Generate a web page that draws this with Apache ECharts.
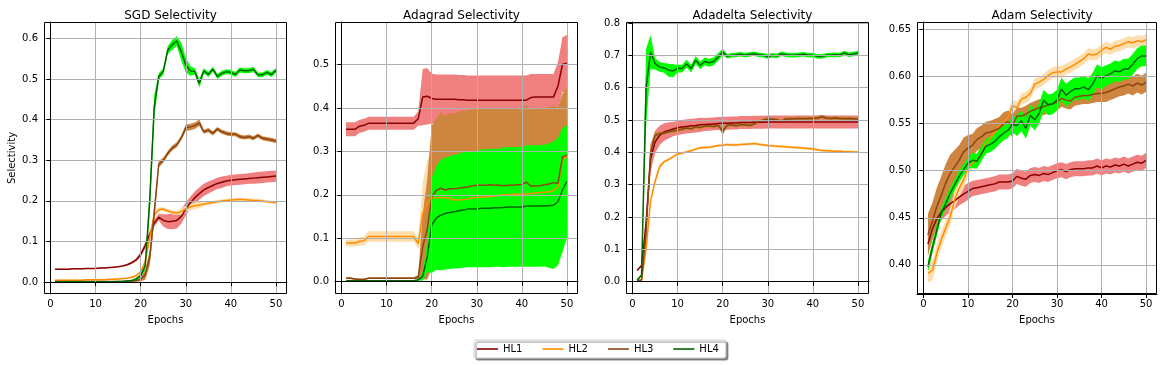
<!DOCTYPE html>
<html>
<head>
<meta charset="utf-8">
<script src="https://cdn.jsdelivr.net/npm/echarts@6/dist/echarts.min.js"></script>
<style>
  html, body { margin: 0; padding: 0; background: #fff; }
  #chart { width: 1167px; height: 365px; }
</style>
</head>
<body>
<div id="chart"></div>
<script>
// epochs (x values)
const epochs = [1,2,3,4,5,6,7,8,9,10,11,12,13,14,15,16,17,18,19,20,21,22,23,24,25,
  26,27,28,29,30,31,32,33,34,35,36,37,38,39,40,41,42,43,44,45,46,47,48,49,50];
const xTicks = [0, 10, 20, 30, 40, 50];

// ---- SGD ----
const sgdHL1 = [0.032,0.032,0.032,0.032,0.033,0.033,0.033,0.034,0.034,0.034,
  0.035,0.035,0.036,0.037,0.038,0.040,0.043,0.048,0.055,0.068,
  0.090,0.118,0.145,0.160,0.152,0.149,0.150,0.152,0.162,0.180,
  0.195,0.208,0.218,0.227,0.233,0.238,0.243,0.246,0.249,0.251,
  0.252,0.253,0.254,0.255,0.256,0.257,0.258,0.259,0.260,0.261];
const sgdHL1sd = [0.001,0.001,0.001,0.001,0.001,0.001,0.001,0.001,0.001,0.001,
  0.001,0.001,0.001,0.001,0.001,0.001,0.002,0.003,0.004,0.006,
  0.008,0.008,0.008,0.008,0.015,0.018,0.020,0.020,0.018,0.016,
  0.015,0.015,0.015,0.015,0.015,0.014,0.014,0.014,0.013,0.013,
  0.013,0.013,0.013,0.013,0.014,0.014,0.014,0.014,0.014,0.014];
const sgdHL2 = [0.005,0.005,0.005,0.005,0.005,0.005,0.005,0.006,0.006,0.006,
  0.006,0.006,0.007,0.007,0.008,0.009,0.010,0.012,0.016,0.025,
  0.050,0.110,0.165,0.178,0.180,0.175,0.172,0.170,0.174,0.180,
  0.185,0.188,0.190,0.192,0.194,0.196,0.198,0.200,0.201,0.202,
  0.203,0.204,0.203,0.202,0.201,0.201,0.200,0.198,0.197,0.196];
const sgdHL2sd = [0.002,0.002,0.002,0.002,0.002,0.002,0.002,0.002,0.002,0.002,
  0.002,0.002,0.002,0.002,0.002,0.002,0.002,0.002,0.003,0.005,
  0.010,0.010,0.010,0.005,0.005,0.005,0.005,0.005,0.008,0.008,
  0.008,0.008,0.008,0.004,0.004,0.004,0.004,0.004,0.004,0.004,
  0.004,0.004,0.004,0.004,0.004,0.004,0.004,0.004,0.004,0.004];
const sgdHL3 = [0.002,0.002,0.002,0.002,0.002,0.002,0.002,0.002,0.002,0.002,
  0.002,0.002,0.002,0.002,0.002,0.002,0.003,0.003,0.004,0.007,
  0.018,0.060,0.170,0.290,0.300,0.317,0.330,0.338,0.355,0.380,
  0.382,0.385,0.392,0.370,0.374,0.366,0.377,0.370,0.366,0.364,
  0.364,0.358,0.356,0.358,0.354,0.361,0.354,0.352,0.350,0.347];
const sgdHL3sd = [0.001,0.001,0.001,0.001,0.001,0.001,0.001,0.001,0.001,0.001,
  0.001,0.001,0.001,0.001,0.001,0.001,0.001,0.002,0.003,0.005,
  0.012,0.020,0.020,0.008,0.006,0.006,0.006,0.006,0.006,0.008,
  0.008,0.008,0.008,0.005,0.005,0.005,0.005,0.005,0.005,0.005,
  0.005,0.005,0.005,0.005,0.005,0.005,0.005,0.005,0.005,0.005];
const sgdHL4 = [0.001,0.001,0.001,0.001,0.001,0.001,0.001,0.001,0.001,0.001,
  0.001,0.001,0.001,0.001,0.002,0.002,0.003,0.004,0.008,0.016,
  0.040,0.200,0.430,0.506,0.518,0.571,0.584,0.593,0.567,0.534,
  0.520,0.518,0.489,0.520,0.511,0.524,0.506,0.514,0.518,0.516,
  0.511,0.522,0.520,0.520,0.524,0.510,0.510,0.516,0.511,0.521];
const sgdHL4sd = [0.001,0.001,0.001,0.001,0.001,0.001,0.001,0.001,0.001,0.001,
  0.001,0.001,0.001,0.001,0.001,0.001,0.001,0.002,0.003,0.004,
  0.010,0.030,0.030,0.008,0.008,0.010,0.012,0.012,0.022,0.018,
  0.012,0.008,0.010,0.006,0.006,0.006,0.006,0.006,0.006,0.006,
  0.006,0.006,0.006,0.006,0.006,0.006,0.006,0.006,0.006,0.006];

// ---- Adagrad ----
const adagradHL1 = [0.351,0.351,0.351,0.358,0.360,0.365,0.365,0.365,0.365,0.365,
  0.365,0.365,0.365,0.365,0.365,0.365,0.375,0.425,0.427,0.422,
  0.420,0.420,0.420,0.420,0.420,0.419,0.419,0.418,0.418,0.418,
  0.418,0.418,0.418,0.418,0.418,0.418,0.418,0.418,0.418,0.418,
  0.418,0.424,0.425,0.425,0.425,0.425,0.425,0.450,0.500,0.503];
const adagradHL1sd = [0.016,0.016,0.016,0.015,0.015,0.015,0.015,0.015,0.015,0.015,
  0.015,0.015,0.015,0.015,0.015,0.015,0.016,0.065,0.065,0.057,
  0.057,0.057,0.057,0.057,0.057,0.057,0.057,0.057,0.057,0.057,
  0.057,0.057,0.057,0.057,0.057,0.057,0.057,0.057,0.057,0.057,
  0.057,0.054,0.053,0.053,0.053,0.053,0.053,0.055,0.063,0.065];
const adagradHL2 = [0.089,0.089,0.089,0.093,0.094,0.104,0.104,0.104,0.104,0.104,
  0.104,0.104,0.104,0.104,0.104,0.104,0.087,0.157,0.180,0.194,
  0.193,0.193,0.193,0.192,0.188,0.188,0.189,0.190,0.193,0.194,
  0.195,0.195,0.196,0.197,0.199,0.200,0.200,0.201,0.201,0.202,
  0.202,0.203,0.204,0.205,0.206,0.207,0.210,0.218,0.283,0.287];
const adagradHL2sd = [0.008,0.008,0.008,0.010,0.010,0.012,0.012,0.012,0.012,0.012,
  0.012,0.012,0.012,0.012,0.012,0.012,0.010,0.070,0.100,0.100,
  0.100,0.100,0.100,0.100,0.100,0.100,0.100,0.100,0.100,0.100,
  0.100,0.100,0.100,0.100,0.100,0.100,0.100,0.100,0.100,0.100,
  0.100,0.100,0.100,0.100,0.100,0.100,0.100,0.100,0.100,0.100];
const adagradHL3 = [0.008,0.008,0.006,0.005,0.005,0.008,0.008,0.008,0.008,0.008,
  0.008,0.008,0.008,0.008,0.008,0.008,0.010,0.080,0.120,0.195,
  0.210,0.215,0.211,0.214,0.214,0.215,0.217,0.218,0.221,0.222,
  0.222,0.222,0.223,0.222,0.222,0.221,0.222,0.222,0.223,0.224,
  0.229,0.220,0.220,0.221,0.223,0.225,0.228,0.226,0.287,0.291];
const adagradHL3sd = [0.002,0.002,0.002,0.002,0.002,0.002,0.002,0.002,0.002,0.002,
  0.002,0.002,0.002,0.002,0.002,0.002,0.005,0.075,0.115,0.165,
  0.165,0.175,0.171,0.174,0.173,0.177,0.177,0.177,0.177,0.177,
  0.177,0.177,0.177,0.177,0.177,0.177,0.177,0.177,0.177,0.177,
  0.177,0.177,0.177,0.177,0.177,0.177,0.177,0.175,0.146,0.155];
const adagradHL4 = [0.002,0.002,0.002,0.002,0.002,0.002,0.002,0.002,0.002,0.002,
  0.002,0.002,0.002,0.002,0.002,0.002,0.004,0.012,0.057,0.130,
  0.146,0.153,0.157,0.159,0.161,0.163,0.165,0.167,0.167,0.167,
  0.169,0.169,0.169,0.170,0.170,0.171,0.172,0.172,0.172,0.172,
  0.174,0.174,0.174,0.174,0.175,0.175,0.176,0.184,0.211,0.231];
const adagradHL4sd = [0.001,0.001,0.001,0.001,0.001,0.001,0.001,0.001,0.001,0.001,
  0.001,0.001,0.001,0.001,0.001,0.001,0.002,0.010,0.035,0.110,
  0.119,0.127,0.129,0.130,0.131,0.132,0.133,0.134,0.134,0.134,
  0.136,0.136,0.136,0.136,0.136,0.138,0.138,0.138,0.138,0.138,
  0.140,0.140,0.140,0.140,0.140,0.143,0.147,0.147,0.143,0.130];

// ---- Adadelta ----
const adadeltaHL1 = [0.035,0.050,0.180,0.380,0.432,0.452,0.463,0.468,0.472,0.476,
  0.478,0.480,0.482,0.483,0.485,0.486,0.487,0.488,0.489,0.490,
  0.490,0.491,0.491,0.492,0.492,0.492,0.493,0.493,0.493,0.494,
  0.494,0.494,0.494,0.494,0.494,0.494,0.494,0.494,0.494,0.494,
  0.494,0.494,0.494,0.494,0.494,0.494,0.494,0.494,0.494,0.494];
const adadeltaHL1sd = [0.002,0.003,0.030,0.040,0.035,0.030,0.027,0.025,0.022,0.022,
  0.022,0.022,0.022,0.022,0.022,0.020,0.020,0.020,0.020,0.020,
  0.020,0.020,0.020,0.020,0.020,0.020,0.020,0.020,0.020,0.020,
  0.020,0.020,0.020,0.020,0.020,0.020,0.020,0.020,0.020,0.020,
  0.020,0.020,0.020,0.020,0.020,0.020,0.020,0.020,0.020,0.020];
const adadeltaHL2 = [0.003,0.005,0.100,0.250,0.310,0.355,0.371,0.378,0.386,0.395,
  0.398,0.401,0.405,0.410,0.414,0.415,0.416,0.418,0.421,0.422,
  0.424,0.423,0.423,0.424,0.425,0.426,0.427,0.425,0.423,0.421,
  0.420,0.419,0.418,0.417,0.416,0.415,0.414,0.413,0.412,0.410,
  0.408,0.406,0.405,0.404,0.403,0.403,0.402,0.402,0.401,0.401];
const adadeltaHL2sd = [0.002,0.003,0.010,0.010,0.010,0.010,0.004,0.004,0.004,0.004,
  0.004,0.004,0.004,0.004,0.004,0.004,0.004,0.004,0.004,0.004,
  0.004,0.004,0.004,0.004,0.004,0.004,0.004,0.004,0.004,0.004,
  0.004,0.004,0.004,0.004,0.004,0.004,0.004,0.004,0.004,0.004,
  0.004,0.004,0.004,0.004,0.004,0.004,0.004,0.004,0.004,0.004];
const adadeltaHL3 = [0.003,0.005,0.150,0.400,0.452,0.458,0.460,0.464,0.466,0.468,
  0.472,0.475,0.473,0.479,0.477,0.481,0.482,0.480,0.484,0.466,
  0.484,0.485,0.482,0.486,0.485,0.483,0.488,0.495,0.500,0.503,
  0.502,0.501,0.496,0.503,0.503,0.504,0.505,0.504,0.505,0.505,
  0.506,0.510,0.506,0.505,0.506,0.505,0.504,0.505,0.504,0.502];
const adadeltaHL3sd = [0.002,0.002,0.020,0.025,0.012,0.006,0.006,0.006,0.006,0.006,
  0.006,0.006,0.006,0.006,0.006,0.006,0.006,0.006,0.006,0.012,
  0.006,0.006,0.006,0.006,0.006,0.006,0.006,0.006,0.006,0.006,
  0.006,0.006,0.006,0.006,0.006,0.006,0.006,0.006,0.006,0.006,
  0.006,0.006,0.006,0.006,0.006,0.006,0.006,0.006,0.006,0.006];
const adadeltaHL4 = [0.005,0.020,0.600,0.710,0.674,0.664,0.661,0.654,0.652,0.659,
  0.659,0.674,0.659,0.685,0.669,0.681,0.677,0.681,0.695,0.710,
  0.697,0.700,0.702,0.703,0.700,0.703,0.705,0.702,0.700,0.696,
  0.700,0.698,0.705,0.702,0.700,0.700,0.702,0.703,0.700,0.700,
  0.697,0.696,0.700,0.701,0.702,0.701,0.707,0.702,0.704,0.707];
const adadeltaHL4sd = [0.002,0.004,0.120,0.052,0.018,0.015,0.015,0.020,0.020,0.012,
  0.012,0.012,0.012,0.012,0.012,0.012,0.012,0.012,0.012,0.010,
  0.007,0.007,0.007,0.007,0.007,0.007,0.007,0.007,0.007,0.007,
  0.007,0.007,0.007,0.007,0.007,0.007,0.007,0.007,0.007,0.007,
  0.007,0.007,0.007,0.007,0.007,0.007,0.007,0.007,0.007,0.007];

// ---- Adam ----
const adamHL1 = [0.422,0.438,0.449,0.456,0.461,0.465,0.468,0.472,0.475,0.478,
  0.481,0.482,0.483,0.484,0.485,0.486,0.488,0.488,0.488,0.489,
  0.494,0.492,0.491,0.495,0.496,0.495,0.497,0.496,0.498,0.500,
  0.501,0.499,0.501,0.502,0.502,0.502,0.503,0.503,0.505,0.503,
  0.505,0.504,0.506,0.505,0.507,0.505,0.507,0.509,0.508,0.511];
const adamHL1sd = [0.012,0.010,0.009,0.009,0.009,0.009,0.009,0.009,0.009,0.009,
  0.008,0.008,0.008,0.008,0.008,0.008,0.008,0.008,0.008,0.008,
  0.008,0.008,0.008,0.008,0.008,0.008,0.008,0.008,0.008,0.008,
  0.008,0.008,0.008,0.008,0.008,0.008,0.008,0.008,0.008,0.008,
  0.008,0.008,0.008,0.008,0.008,0.008,0.008,0.008,0.008,0.008];
const adamHL2 = [0.391,0.394,0.412,0.427,0.439,0.451,0.469,0.481,0.490,0.503,
  0.508,0.511,0.518,0.529,0.534,0.541,0.547,0.552,0.557,0.569,
  0.567,0.576,0.578,0.582,0.592,0.594,0.597,0.601,0.604,0.605,
  0.605,0.608,0.610,0.613,0.616,0.619,0.624,0.623,0.624,0.628,
  0.631,0.629,0.632,0.633,0.635,0.637,0.636,0.638,0.637,0.639];
const adamHL2sd = [0.010,0.010,0.010,0.009,0.009,0.009,0.009,0.009,0.009,0.009,
  0.007,0.007,0.007,0.007,0.007,0.007,0.007,0.007,0.007,0.007,
  0.006,0.006,0.006,0.006,0.006,0.006,0.006,0.006,0.006,0.006,
  0.006,0.006,0.006,0.006,0.006,0.006,0.006,0.006,0.006,0.006,
  0.006,0.006,0.006,0.006,0.006,0.006,0.006,0.006,0.006,0.006];
const adamHL3 = [0.432,0.446,0.462,0.474,0.487,0.497,0.504,0.511,0.520,0.524,
  0.527,0.533,0.536,0.540,0.541,0.543,0.545,0.550,0.552,0.548,
  0.558,0.558,0.560,0.563,0.565,0.567,0.568,0.570,0.571,0.573,
  0.577,0.575,0.574,0.578,0.579,0.580,0.580,0.581,0.582,0.582,
  0.583,0.585,0.587,0.589,0.590,0.592,0.590,0.593,0.591,0.594];
const adamHL3sd = [0.022,0.020,0.020,0.020,0.020,0.020,0.018,0.016,0.015,0.014,
  0.012,0.012,0.012,0.012,0.012,0.012,0.012,0.012,0.012,0.012,
  0.009,0.009,0.009,0.009,0.009,0.009,0.009,0.009,0.009,0.009,
  0.009,0.009,0.009,0.009,0.009,0.009,0.009,0.009,0.009,0.009,
  0.010,0.010,0.010,0.010,0.010,0.010,0.010,0.010,0.010,0.010];
const adamHL4 = [0.398,0.418,0.437,0.455,0.465,0.476,0.485,0.494,0.501,0.508,
  0.511,0.510,0.518,0.526,0.528,0.531,0.536,0.540,0.543,0.549,
  0.548,0.553,0.545,0.559,0.554,0.561,0.575,0.570,0.571,0.575,
  0.587,0.580,0.584,0.587,0.587,0.589,0.586,0.592,0.601,0.598,
  0.601,0.603,0.606,0.605,0.608,0.608,0.613,0.619,0.622,0.622];
const adamHL4sd = [0.006,0.006,0.006,0.006,0.006,0.006,0.006,0.006,0.006,0.006,
  0.008,0.008,0.008,0.008,0.008,0.008,0.008,0.008,0.008,0.008,
  0.011,0.011,0.011,0.011,0.011,0.011,0.011,0.011,0.011,0.011,
  0.012,0.012,0.012,0.012,0.012,0.012,0.012,0.012,0.012,0.012,
  0.011,0.011,0.011,0.011,0.011,0.011,0.011,0.011,0.011,0.011];

const panelTitles = ['SGD Selectivity', 'Adagrad Selectivity', 'Adadelta Selectivity', 'Adam Selectivity'];
const seriesNames = ['HL1', 'HL2', 'HL3', 'HL4'];
const yTicks = [
  [0, 0.1, 0.2, 0.3, 0.4, 0.5, 0.6],
  [0, 0.1, 0.2, 0.3, 0.4, 0.5],
  [0, 0.1, 0.2, 0.3, 0.4, 0.5, 0.6, 0.7, 0.8],
  [0.40, 0.45, 0.50, 0.55, 0.60, 0.65]
];

const panels = [
  { means: [sgdHL1, sgdHL2, sgdHL3, sgdHL4], sds: [sgdHL1sd, sgdHL2sd, sgdHL3sd, sgdHL4sd] },
  { means: [adagradHL1, adagradHL2, adagradHL3, adagradHL4], sds: [adagradHL1sd, adagradHL2sd, adagradHL3sd, adagradHL4sd] },
  { means: [adadeltaHL1, adadeltaHL2, adadeltaHL3, adadeltaHL4], sds: [adadeltaHL1sd, adadeltaHL2sd, adadeltaHL3sd, adadeltaHL4sd] },
  { means: [adamHL1, adamHL2, adamHL3, adamHL4], sds: [adamHL1sd, adamHL2sd, adamHL3sd, adamHL4sd] }
];

// layout / style
const lineColors = ['#8b0000', '#ff8c00', '#8b4513', '#006400'];
const bandColors = ['#f08080', '#ffdead', '#cd853f', '#00ff00'];
const legendColors = ['rgba(139,0,0,0.8)', 'rgba(255,140,0,0.8)', 'rgba(139,69,19,0.8)', 'rgba(0,100,0,0.8)'];
const gridLeft = [44, 335, 626, 917];
const gridWidth = [243, 243, 243, 240];
const gridTop = 22, gridHeight = 272;
const yRange = [[-0.029, 0.640], [-0.0285, 0.598], [-0.038, 0.803], [0.369, 0.658]];
const ySplit = [5, 5, 8, 5];
const yDigits = [1, 1, 1, 2];
const font = 'DejaVu Sans';

const chart = echarts.init(document.getElementById('chart'), null, { renderer: 'canvas' });

// band = mean +/- sd, drawn as one polygon through the axis scales
function bandSeries(g, mean, sd, color) {
  return {
    type: 'custom',
    xAxisIndex: g, yAxisIndex: g,
    z: 1, silent: true, clip: true,
    data: epochs.map((e, i) => [e, mean[i] - sd[i], mean[i] + sd[i]]),
    encode: { x: 0, y: [1, 2] },
    renderItem: function (params, api) {
      if (params.dataIndex !== 0) return null;
      const upper = [], lower = [];
      for (let i = 0; i < epochs.length; i++) {
        upper.push(api.coord([epochs[i], mean[i] + sd[i]]));
        lower.unshift(api.coord([epochs[i], mean[i] - sd[i]]));
      }
      return {
        type: 'polygon',
        shape: { points: upper.concat(lower) },
        style: { fill: color, stroke: null }
      };
    }
  };
}

const grids = [], xAxes = [], yAxes = [], titles = [], series = [], frames = [];
for (let g = 0; g < 4; g++) {
  grids.push({ left: gridLeft[g], top: gridTop, width: gridWidth[g], height: gridHeight, outerBoundsMode: 'none' });
  titles.push({
    text: panelTitles[g],
    left: gridLeft[g] + gridWidth[g] / 2, top: 5, textAlign: 'center',
    textStyle: { fontFamily: font, fontSize: 12, fontWeight: 'normal', color: '#000' }
  });
  xAxes.push({
    gridIndex: g, type: 'value', min: -1.45, max: 52.45, z: 3,
    name: 'Epochs', nameLocation: 'middle', nameGap: 21,
    nameTextStyle: { fontFamily: font, fontSize: 10, color: '#000' },
    axisLine: { show: true, lineStyle: { color: '#000', width: 1 } },
    axisTick: { show: true, length: 4, customValues: xTicks, lineStyle: { color: '#000' } },
    axisLabel: { customValues: xTicks, margin: 5, fontFamily: font, fontSize: 10, color: '#000' },
    splitLine: { show: true, lineStyle: { color: '#b0b0b0', width: 1 } }
  });
  yAxes.push({
    gridIndex: g, type: 'value', min: yRange[g][0], max: yRange[g][1], splitNumber: ySplit[g], z: 3,
    name: g === 0 ? 'Selectivity' : '', nameLocation: 'middle', nameGap: 27,
    nameTextStyle: { fontFamily: font, fontSize: 10, color: '#000' },
    axisLine: { show: true, lineStyle: { color: '#000', width: 1 } },
    axisTick: { show: true, length: 4, customValues: yTicks[g], lineStyle: { color: '#000' } },
    axisLabel: {
      customValues: yTicks[g], margin: 6, fontFamily: font, fontSize: 10, color: '#000',
      formatter: (v) => v.toFixed(yDigits[g])
    },
    splitLine: { show: true, lineStyle: { color: '#b0b0b0', width: 1 } }
  });
  const p = panels[g];
  for (let k = 0; k < 4; k++) {
    series.push(bandSeries(g, p.means[k], p.sds[k], bandColors[k]));
  }
  for (let k = 0; k < 4; k++) {
    series.push({
      name: seriesNames[k], type: 'line', xAxisIndex: g, yAxisIndex: g, z: 2,
      data: epochs.map((e, i) => [e, p.means[k][i]]),
      showSymbol: false, symbol: 'none', silent: true,
      color: lineColors[k],
      lineStyle: { color: lineColors[k], width: 1.5 }
    });
  }
  frames.push({
    type: 'rect', z: 100, silent: true,
    shape: { x: gridLeft[g] + 0.5, y: gridTop + 0.5, width: gridWidth[g] - 1, height: gridHeight - 1 },
    style: { fill: 'none', stroke: '#000', lineWidth: 1 }
  });
}

chart.setOption({
  animation: false,
  backgroundColor: '#fff',
  title: titles,
  grid: grids,
  xAxis: xAxes,
  yAxis: yAxes,
  legend: {
    left: 474, top: 340,
    padding: [4, 7, 4, 3],
    itemWidth: 21, itemHeight: 2, itemGap: 20, itemTextGap: 8,
    icon: 'rect',
    backgroundColor: '#fff',
    borderColor: '#cccccc', borderWidth: 1, borderRadius: 2,
    shadowColor: 'rgba(0,0,0,0.45)', shadowOffsetX: 2, shadowOffsetY: 2, shadowBlur: 1,
    textStyle: { fontFamily: font, fontSize: 10, color: '#000' },
    data: seriesNames.map((n, k) => ({ name: n, itemStyle: { color: legendColors[k] } }))
  },
  graphic: frames,
  series: series
});
</script>
</body>
</html>
